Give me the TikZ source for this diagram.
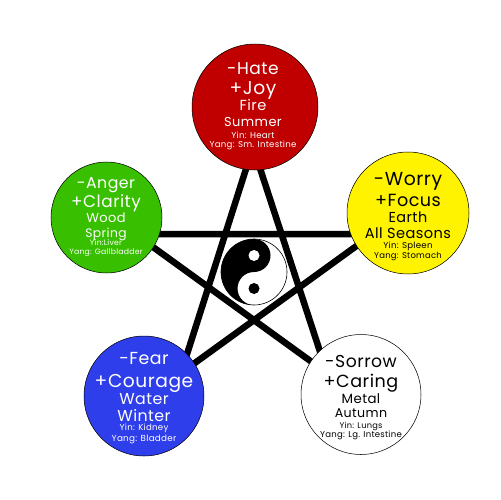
\documentclass[tikz,border=0pt]{standalone}
\usepackage{fontspec}
\setmainfont[LetterSpace=3]{Poppins}
\usetikzlibrary{positioning,calc}
\definecolor{firered}{RGB}{192,0,0}
\definecolor{woodgreen}{RGB}{56,192,0}
\definecolor{earthyellow}{RGB}{255,243,0}
\definecolor{waterblue}{RGB}{46,62,235}
\begin{document}
\begin{tikzpicture}[x=0.02cm,y=-0.02cm,
    element/.style={circle,draw=black,line width=0.3pt,inner sep=0pt},
    linetext/.style={anchor=base,inner sep=0pt,font=\fontsize{#1}{#1}\selectfont},
    starline/.style={line width=3.7pt,black}]
    \useasboundingbox (0,0) rectangle (500,500);
    % star points sit under the circles
    \coordinate (cen) at (254,272);
    \coordinate (sfire) at (253,147);
    \coordinate (swood) at (135,234);
    \coordinate (searth) at (373,234);
    \coordinate (swater) at (181,373);
    \coordinate (smetal) at (327,373);
    \draw[starline] (sfire) -- (swater) -- (searth) -- (swood) -- (smetal) -- (sfire);
    \node[element,fill=firered,minimum size=2.52cm] (fire) at (255,107) {};
    \node[element,fill=woodgreen,minimum size=2.22cm] (wood) at (106.5,217.5) {};
    \node[element,fill=earthyellow,minimum size=2.44cm] (earth) at (408,213) {};
    \node[element,fill=waterblue,minimum size=2.4cm] (water) at (144,396) {};
    \node[element,fill=white,minimum size=2.4cm] (metal) at (361,394.5) {};
    % circle texts: baseline/size/line
    \foreach \y/\sz/\txt [count=\i] in {74/9.7/-Hate,94/10.6/+Joy,111/8.3/Fire,127/7.4/Summer,138/4.9/Yin: Heart,147/4.9/Yang: Sm. Intestine}
      \node[linetext=\sz,text=white] (firetext\i) at (253,\y) {\txt};
    \foreach \y/\sz/\txt [count=\i] in {188/9/-Anger,207/9.6/+Clarity,222/7.4/Wood,237/7/Spring,245/4.4/Yin:Liver,254/4.4/Yang: Gallbladder}
      \node[linetext=\sz,text=white] (woodtext\i) at (106,\y) {\txt};
    \foreach \y/\sz/\txt [count=\i] in {185/10.7/-Worry,206/10/+Focus,222/8.2/Earth,238/8.3/All Seasons,248/4.9/Yin: Spleen,258/4.8/Yang: Stomach}
      \node[linetext=\sz,text=black] (earthtext\i) at (408,\y) {\txt};
    \foreach \y/\sz/\txt [count=\i] in {364/9.9/-Fear,387/10.6/+Courage,404/9/Water,421/9/Winter,430/4.9/Yin: Kidney,441/5/Yang: Bladder}
      \node[linetext=\sz,text=white] (watertext\i) at (144,\y) {\txt};
    \foreach \y/\sz/\txt [count=\i] in {367/9.8/-Sorrow,387/10/+Caring,403/7.6/Metal,417/7.2/Autumn,428/4.7/Yin: Lungs,437/4.85/Yang: Lg. Intestine}
      \node[linetext=\sz,text=black] (metaltext\i) at (361,\y) {\txt};
    % yin yang
    \fill[white] (cen) circle (33);
    \fill[black] (254,239) arc (-90:-270:33) arc (90:270:16.5) arc (90:-90:16.5) -- cycle;
    \draw[black,line width=0.35pt] (cen) circle (33);
    \fill[white] (254,255.5) circle (5.5);
    \fill[black] (254,288.5) circle (5.5);
\end{tikzpicture}
\end{document}
